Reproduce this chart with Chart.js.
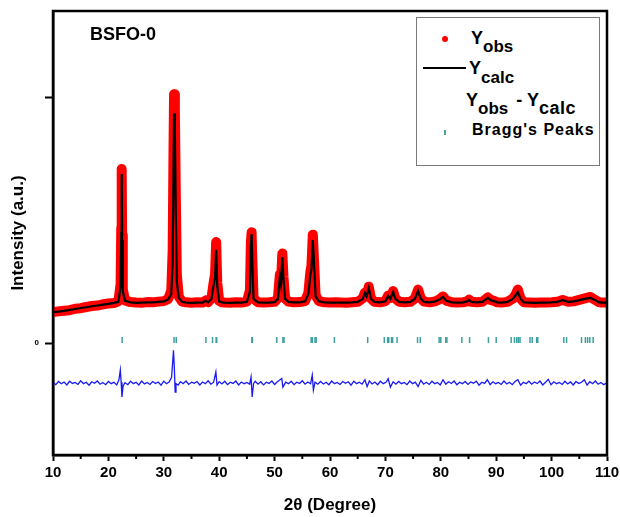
<!DOCTYPE html>
<html><head><meta charset="utf-8">
<script src="https://cdn.jsdelivr.net/npm/chart.js@4.4.0/dist/chart.umd.min.js"></script>
<style>
html,body{margin:0;padding:0;background:#fff;}
#wrap{position:relative;width:620px;height:517px;overflow:hidden;}
#c{position:absolute;left:0;top:0;}
.t{position:absolute;font-family:'Liberation Sans',Arial,sans-serif;font-weight:bold;color:#000;white-space:nowrap;line-height:20px;}
.sub{font-size:17px;position:relative;}
</style></head><body>
<div id="wrap">
<canvas id="c" width="620" height="517"></canvas>
<div class="t" style="left:90px;top:24px;font-size:18px;">BSFO-0</div>
<div style="position:absolute;left:416px;top:17px;width:182px;height:147px;border:1px solid #7a7a7a;background:#fff;"></div>
<div style="position:absolute;left:442px;top:36px;width:6px;height:6px;border-radius:50%;background:#ff0000;"></div>
<div class="t" style="left:471px;top:28px;font-size:18px;">Y<span class="sub" style="top:8px;">obs</span></div>
<div style="position:absolute;left:423px;top:67px;width:43px;height:2px;background:#000;"></div>
<div class="t" style="left:469px;top:58px;font-size:18px;">Y<span class="sub" style="top:9px;">calc</span></div>
<div class="t" style="left:466px;top:90px;font-size:18px;">Y<span class="sub" style="top:8px;">obs</span><span style="margin-left:3px;"> - </span>Y<span class="sub" style="top:8px;font-size:18px;letter-spacing:0.5px;">calc</span></div>
<div style="position:absolute;left:444px;top:130px;width:1.5px;height:5px;background:#4aa5a5;"></div>
<div class="t" style="left:472px;top:120px;font-size:16px;letter-spacing:1px;">Bragg's Peaks</div>
</div>
<script>
// ---------- data ----------
const twoTheta = [10,11,12,13,14,15,16,17,18,19,
  20,21,21.8,22.2,22.32,22.4,22.48,22.6,23.0,24,
  25,26,27,28,29,30,30.8,31.35,31.6,31.75,
  31.85,32.0,32.15,32.35,32.7,33.3,34,35,36,37,
  37.6,38.0,38.6,38.95,39.25,39.45,39.65,40.0,40.5,41,
  42,43,44,45,45.55,45.72,45.85,45.98,46.2,47,
  48,49,50,50.6,50.95,51.15,51.4,51.6,51.9,52.5,
  53.5,54.5,55.5,56.1,56.45,56.65,56.9,57.1,57.4,58,
  59,60,61,62,63,64,65,65.9,66.3,66.6,
  67.0,67.4,68,69,70,70.5,70.9,71.4,71.8,72.5,
  73.5,74.5,75.3,75.9,76.4,77,78,79,79.8,80.4,
  81,82,83,84,84.7,85.1,85.5,86.5,87.5,88.5,
  89.0,89.6,90.2,91,92,93.0,93.5,93.9,94.4,95,
  96,97,98,99,100,101,102,103,104,105,
  106,107,107.8,108.5,109,110];
const yCalc = [126,128,131,135,139,143,146,150,153,157,
  160,164,168,230,450,690,420,210,172,166,
  164,165,166,166,168,170,178,200,330,700,
  938,860,560,250,185,168,165,164,165,165,
  172,166,180,230,265,380,230,170,166,165,
  164,165,165,168,210,400,445,330,180,166,
  165,165,167,180,270,240,351,260,180,168,
  166,166,170,200,277,300,420,330,190,170,
  166,165,165,165,165,166,168,180,204,190,
  224,180,168,166,170,192,180,208,180,168,
  166,168,180,212,180,168,166,170,178,188,
  172,166,165,166,170,175,168,166,168,184,
  175,171,166,165,168,180,195,208,180,166,
  165,164,165,165,166,168,175,168,170,175,
  180,184,176,167,165,165];
const yObs = [126,129,132,134,140,142,147,151,153,158,
  161,163,170,240,470,710,440,220,174,167,
  165,164,167,166,169,171,180,215,380,780,
  1015,950,640,280,190,169,166,164,166,165,
  174,167,182,240,280,412,245,172,166,165,
  164,166,165,169,215,410,452,340,182,166,
  165,166,168,183,280,250,365,270,182,169,
  166,167,171,205,290,315,442,345,195,171,
  166,165,166,165,164,166,168,182,206,194,
  230,182,168,166,171,194,183,212,182,168,
  166,168,181,218,182,169,166,170,179,190,
  173,166,165,166,170,177,168,166,168,186,
  176,172,166,165,168,181,198,218,182,166,
  165,164,165,165,166,168,176,168,170,176,
  182,188,177,167,165,165];
const diffX = [10,10.5,11,11.5,12,12.5,13,13.5,14,14.5,
  15,15.5,16,16.5,17,17.5,18,18.5,19,19.5,
  20,20.5,21,21.5,21.9,22.15,22.3,22.45,22.65,23,
  23.5,24,24.5,25,25.5,26,26.5,27,27.5,28,
  28.5,29,29.5,30,30.5,31,31.4,31.6,31.75,31.9,
  32.05,32.2,32.6,33,33.5,34,34.5,35,35.5,36,
  36.5,37,37.5,38,38.5,39,39.4,39.6,40,40.5,
  41,41.5,42,42.5,43,43.5,44,44.5,45,45.5,
  45.75,45.95,46.2,46.5,47,47.5,48,48.5,49,49.5,
  50,50.5,51,51.3,51.5,52,52.5,53,53.5,54,
  54.5,55,55.5,56,56.5,56.8,57.0,57.3,57.8,58.3,
  58.8,59.3,59.8,60.3,60.8,61.3,61.8,62.3,62.8,63.3,
  63.8,64.3,64.8,65.3,65.8,66.3,66.7,67.1,67.6,68.1,
  68.6,69.1,69.6,70.1,70.5,70.9,71.4,71.9,72.4,72.9,
  73.4,73.9,74.4,74.9,75.4,75.9,76.4,76.9,77.4,77.9,
  78.4,78.9,79.4,79.9,80.4,80.9,81.4,81.9,82.4,82.9,
  83.4,83.9,84.4,84.9,85.4,85.9,86.4,86.9,87.4,87.9,
  88.4,88.9,89.4,89.9,90.4,90.9,91.4,91.9,92.4,92.9,
  93.4,93.9,94.4,94.9,95.4,95.9,96.4,96.9,97.4,97.9,
  98.4,98.9,99.4,99.9,100.4,100.9,101.4,101.9,102.4,102.9,
  103.4,103.9,104.4,104.9,105.4,105.9,106.4,106.9,107.4,107.9,
  108.4,108.9,109.4,110];
const diffY = [-160,-170,-157,-166,-159,-171,-156,-165,-161,-169,
  -154,-166,-160,-172,-158,-164,-155,-168,-161,-170,
  -157,-166,-160,-171,-150,-110,-160,-220,-175,-162,
  -170,-156,-166,-160,-171,-155,-167,-161,-169,-157,
  -165,-159,-172,-156,-166,-158,-140,-80,-30,-100,
  -200,-165,-172,-158,-166,-155,-169,-160,-164,-157,
  -171,-159,-166,-154,-168,-160,-118,-172,-158,-167,
  -156,-170,-160,-165,-155,-171,-159,-166,-161,-168,
  -139,-220,-165,-156,-168,-158,-171,-160,-165,-155,
  -169,-158,-150,-145,-180,-160,-166,-156,-170,-160,
  -165,-154,-168,-159,-166,-131,-192,-160,-168,-157,
  -167,-160,-170,-155,-166,-161,-169,-157,-164,-158,
  -172,-156,-166,-160,-168,-150,-178,-155,-167,-159,
  -170,-156,-166,-160,-145,-180,-158,-168,-157,-166,
  -161,-170,-155,-166,-160,-178,-152,-168,-160,-169,
  -156,-166,-161,-171,-150,-168,-158,-165,-155,-170,
  -160,-166,-157,-169,-159,-164,-156,-172,-160,-165,
  -150,-170,-158,-166,-161,-169,-155,-167,-160,-170,
  -157,-150,-172,-160,-166,-156,-168,-159,-165,-155,
  -171,-160,-148,-170,-158,-166,-161,-169,-156,-167,
  -159,-171,-157,-165,-160,-150,-172,-158,-166,-155,
  -168,-161,-170,-162];
const braggPos = [22.48,31.85,32.25,37.6,38.8,39.45,39.55,45.9,46.0,50.4,
  51.5,51.7,56.6,56.8,57.3,57.5,60.8,66.8,69.8,70.4,
  70.6,71.1,71.3,72.1,75.8,76.3,79.7,80.0,80.9,81.1,
  83.8,85.2,88.6,90.0,92.7,93.3,93.7,94.0,94.3,96.1,
  96.5,97.3,97.5,102.2,102.7,105.4,106.1,106.5,106.9,107.5];
const braggLevel = 12;
const xMajorTicks = [10,20,30,40,50,60,70,80,90,100,110];
const xMinorTicks = [15,25,35,45,55,65,75,85,95,105];
const yMajorTicks = [0,1000];
const yTickText = ['0',''];

// ---------- plugins ----------
const framePlugin = {
  id: 'frame',
  afterDatasetsDraw(chart) {
    const a = chart.chartArea, ctx = chart.ctx;
    ctx.save();
    ctx.strokeStyle = '#000'; ctx.lineWidth = 2.5;
    ctx.strokeRect(a.left, a.top, a.right - a.left, a.bottom - a.top);
    ctx.restore();
  }
};
const minorTickPlugin = {
  id: 'minorTicks',
  afterDraw(chart) {
    const xs = chart.scales.x, ctx = chart.ctx, b = chart.chartArea.bottom;
    ctx.save(); ctx.strokeStyle = '#000'; ctx.lineWidth = 2;
    xMinorTicks.forEach(v => {
      const px = xs.getPixelForValue(v);
      ctx.beginPath(); ctx.moveTo(px, b); ctx.lineTo(px, b + 4); ctx.stroke();
    });
    ctx.restore();
  }
};

const toXY = (xs, ys) => xs.map((x, i) => ({x: x, y: ys[i]}));

new Chart(document.getElementById('c'), {
  type: 'scatter',
  data: {
    datasets: [
      {label: 'Ycalc', data: toXY(twoTheta, yCalc), showLine: true, borderColor: '#000', borderWidth: 2.2,
       pointRadius: 0, tension: 0, clip: 0, order: 1},
      {label: 'Yobs', data: toXY(twoTheta, yObs), showLine: true, borderColor: '#ff0000', borderWidth: 10,
       borderJoinStyle: 'round', borderCapStyle: 'round', pointRadius: 0, tension: 0, clip: 0, order: 2},
      {label: 'Yobs - Ycalc', data: toXY(diffX, diffY), showLine: true, borderColor: '#1a1af5', borderWidth: 1.3,
       pointRadius: 0, tension: 0, clip: 0, order: 3},
      {label: "Bragg's Peaks", data: braggPos.map(x => ({x: x, y: braggLevel})), showLine: false,
       pointStyle: 'line', rotation: 90, pointRadius: 3, borderWidth: 1.5, borderColor: '#3d9e9e',
       backgroundColor: '#3d9e9e', order: 4}
    ]
  },
  options: {
    responsive: false, animation: false, devicePixelRatio: 1,
    layout: {padding: {left: 0, right: 13, top: 11, bottom: 0}},
    plugins: {legend: {display: false}, tooltip: {enabled: false}},
    scales: {
      x: {
        type: 'linear', position: 'bottom', min: 10, max: 110,
        afterBuildTicks: s => { s.ticks = xMajorTicks.map(v => ({value: v})); },
        afterFit: s => { s.height = 62; s.paddingLeft = 0; s.paddingRight = 0; },
        ticks: {autoSkip: false, maxRotation: 0, padding: 3, color: '#000',
                font: {family: "'Liberation Sans', Arial, sans-serif", size: 15, weight: 'bold'},
                callback: v => String(v)},
        grid: {drawOnChartArea: false, drawTicks: true, tickLength: 6, tickWidth: 2, tickColor: '#000'},
        border: {display: true, color: '#000', width: 2.5},
        title: {display: true, text: '2θ (Degree)', color: '#000',
                font: {family: "'Liberation Sans', Arial, sans-serif", size: 17, weight: 'bold'},
                padding: {top: 0, bottom: 1}}
      },
      y: {
        type: 'linear', position: 'left', min: -457, max: 1355,
        afterBuildTicks: s => { s.ticks = yMajorTicks.map(v => ({value: v})); },
        afterFit: s => { s.width = 53; s.paddingTop = 0; s.paddingBottom = 0; },
        ticks: {autoSkip: false, padding: 6, color: '#000',
                font: {family: "'Liberation Sans', Arial, sans-serif", size: 8, weight: 'bold'},
                callback: v => { const i = yMajorTicks.indexOf(v); return i >= 0 ? yTickText[i] : ''; }},
        grid: {drawOnChartArea: false, drawTicks: true, tickLength: 8, tickWidth: 2, tickColor: '#000'},
        border: {display: true, color: '#000', width: 2.5},
        title: {display: true, text: 'Intensity (a.u.)', color: '#000',
                font: {family: "'Liberation Sans', Arial, sans-serif", size: 17, weight: 'bold'},
                padding: {top: 8, bottom: 0}}
      }
    }
  },
  plugins: [framePlugin, minorTickPlugin]
});
</script>
</body></html>
